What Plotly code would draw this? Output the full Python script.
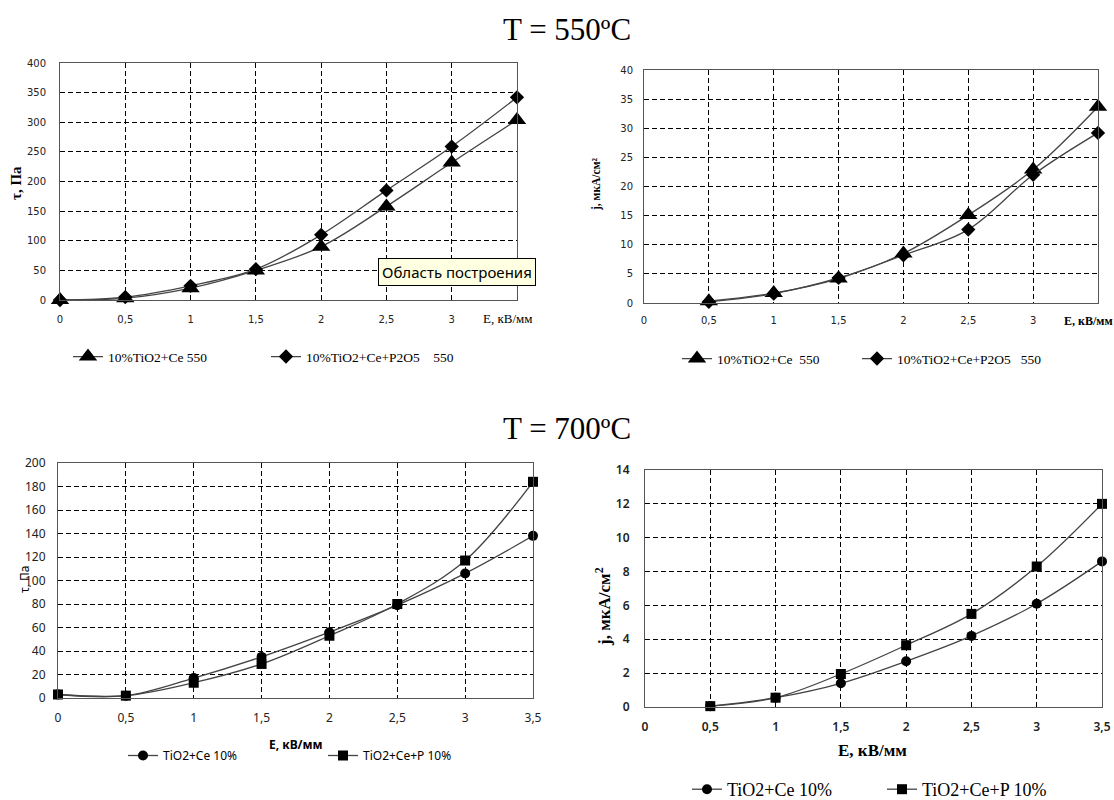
import plotly.graph_objects as go

# ---------------- data ----------------
E_top = [0, 0.5, 1, 1.5, 2, 2.5, 3, 3.5]
tau550_ce = [0, 3, 20, 50, 90, 158, 232, 304]
tau550_cep = [0, 5, 24, 52, 110, 185, 259, 342]

E_top_j = [0.5, 1, 1.5, 2, 2.5, 3, 3.5]
j550_ce = [0.3, 1.7, 4.2, 8.5, 15.1, 22.9, 33.7]
j550_cep = [0.2, 1.6, 4.3, 8.2, 12.6, 22.0, 29.2]

E_bot = [0, 0.5, 1, 1.5, 2, 2.5, 3, 3.5]
tau700_ce = [3, 2, 17, 35, 56, 79, 106, 138]
tau700_cep = [3, 2, 13, 29, 53, 80, 117, 184]

E_bot_j = [0.5, 1, 1.5, 2, 2.5, 3, 3.5]
j700_ce = [0.05, 0.55, 1.4, 2.7, 4.2, 6.1, 8.6]
j700_cep = [0.05, 0.55, 1.95, 3.65, 5.5, 8.3, 12.0]

names_550_a = ["10%TiO2+Ce 550", "10%TiO2+Ce+P2O5    550"]
names_550_b = ["10%TiO2+Ce  550", "10%TiO2+Ce+P2O5   550"]
names_700 = ["TiO2+Ce 10%", "TiO2+Ce+P 10%"]

xt_top = [0, 0.5, 1, 1.5, 2, 2.5, 3]
xt_bot = [0, 0.5, 1, 1.5, 2, 2.5, 3, 3.5]

W, H = 1114, 800
def px(x): return x / W
def py(y): return 1 - y / H

LINE = "#444444"
fig = go.Figure()

legends = {}
def add(x, y, name, sym, size, xa, ya, leg, lx, ly, font):
    fig.add_trace(go.Scatter(
        x=x, y=y, name=name, mode="lines+markers", showlegend=True,
        line=dict(color=LINE, width=1.3, shape="spline"),
        marker=dict(symbol=sym, size=size, color="black"),
        xaxis=xa, yaxis=ya, legend=leg, cliponaxis=False))
    # legend box: text starts ~41px right of the box, text centre ~(10 + size/2) below top
    legends[leg] = dict(orientation="h", x=px(lx - 41), y=py(ly - 10 - font["size"] / 2),
                        xanchor="left", yanchor="top", font=font, itemwidth=30,
                        bgcolor="rgba(0,0,0,0)", visible=True)

f_top = dict(family="Liberation Serif", size=13.5, color="black")
f_bl = dict(family="Noto Sans", size=12, color="black")
f_br = dict(family="Liberation Serif", size=18, color="black")

add(E_top, tau550_ce, names_550_a[0], "triangle-up", 16, "x", "y", "legend", 109, 358, f_top)
add(E_top, tau550_cep, names_550_a[1], "diamond", 11, "x", "y", "legend2", 307, 358, f_top)
add(E_top_j, j550_ce, names_550_b[0], "triangle-up", 16, "x2", "y2", "legend3", 718, 360, f_top)
add(E_top_j, j550_cep, names_550_b[1], "diamond", 11, "x2", "y2", "legend4", 898, 360, f_top)
add(E_bot, tau700_ce, names_700[0], "circle", 10, "x3", "y3", "legend5", 164, 757, f_bl)
add(E_bot, tau700_cep, names_700[1], "square", 10, "x3", "y3", "legend6", 364, 757, f_bl)
add(E_bot_j, j700_ce, names_700[0], "circle", 10, "x4", "y4", "legend7", 728, 790, f_br)
add(E_bot_j, j700_cep, names_700[1], "square", 10, "x4", "y4", "legend8", 923, 790, f_br)

grid = dict(showgrid=True, gridcolor="black", gridwidth=1, griddash="5px,3px",
            zeroline=False, showline=True, linecolor="#555", linewidth=1,
            mirror=True, ticks="", fixedrange=True)

tf_top = dict(family="DejaVu Sans", size=10, color="#222")
tf_bl = dict(family="Noto Sans", size=12, color="#222")
tf_br = dict(family="Noto Sans", size=12, color="#222", weight=600)

fig.update_layout(
    width=W, height=H, margin=dict(l=0, r=0, t=0, b=0, autoexpand=False),
    paper_bgcolor="white", plot_bgcolor="white", separators=", ", showlegend=True,
    xaxis=dict(domain=[px(60), px(517)], anchor="y", range=[0, 3.5],
               tickvals=xt_top, tickfont=tf_top, ticklabelstandoff=10, **grid),
    yaxis=dict(domain=[py(300), py(63)], anchor="x", range=[0, 400],
               dtick=50, tickfont=tf_top, ticklabelstandoff=11, **grid),
    xaxis2=dict(domain=[px(644), px(1098)], anchor="y2", range=[0, 3.5],
                tickvals=xt_top, tickfont=tf_top, ticklabelstandoff=8, **grid),
    yaxis2=dict(domain=[py(303), py(70)], anchor="x2", range=[0, 40],
                dtick=5, tickfont=tf_top, ticklabelstandoff=8, **grid),
    xaxis3=dict(domain=[px(58), px(533)], anchor="y3", range=[0, 3.5],
                tickvals=xt_bot, tickfont=tf_bl, ticklabelstandoff=9, **grid),
    yaxis3=dict(domain=[py(698), py(463)], anchor="x3", range=[0, 200],
                dtick=20, tickfont=tf_bl, ticklabelstandoff=9, **grid),
    xaxis4=dict(domain=[px(645), px(1102)], anchor="y4", range=[0, 3.5],
                tickvals=xt_bot, tickfont=tf_br, ticklabelstandoff=9, **grid),
    yaxis4=dict(domain=[py(707), py(470)], anchor="x4", range=[0, 14],
                dtick=2, tickfont=tf_br, ticklabelstandoff=12, **grid),
    **legends,
)

ann = []
def A(text, x, y, size, family="Liberation Serif", angle=0, bold=False,
      xanchor="center", **kw):
    t = f"<b>{text}</b>" if bold else text
    ann.append(dict(text=t, x=px(x), y=py(y), xref="paper", yref="paper",
                    xanchor=xanchor, yanchor="middle",
                    showarrow=False, textangle=angle,
                    font=dict(family=family, size=size, color="black"), **kw))

A("T = 550ºC", 567, 30, 31)
A("T = 700ºC", 567, 428, 31)
A("τ, Па", 16, 183, 15, bold=True, angle=-90)
A("E, кВ/мм", 508, 319, 13)
A("j, мкА/см²", 597, 185, 11.5, bold=True, angle=-90)
A("E, кВ/мм", 1062, 321, 12, bold=True, xanchor="left")
A("τ, Па", 24, 580, 12, family="Noto Sans", angle=-90)
A("E, кВ/мм", 296, 744, 12, family="Noto Sans", bold=True)
A("j, мкА/см<sup>2</sup>", 603, 607, 17, bold=True, angle=-90)
A("E, кВ/мм", 872, 750, 17, bold=True)
ann.append(dict(text="Область построения", x=px(378), y=py(272), xref="paper", yref="paper",
                xanchor="left", yanchor="middle", showarrow=False, bgcolor="#FFFFE1",
                bordercolor="black", borderwidth=1, borderpad=3,
                font=dict(family="Noto Sans", size=15, color="black")))
fig.update_layout(annotations=ann)

fig.write_html("out.html", config={"displayModeBar": False},
               post_script="document.body.style.margin='0';document.body.style.overflow='hidden';")
